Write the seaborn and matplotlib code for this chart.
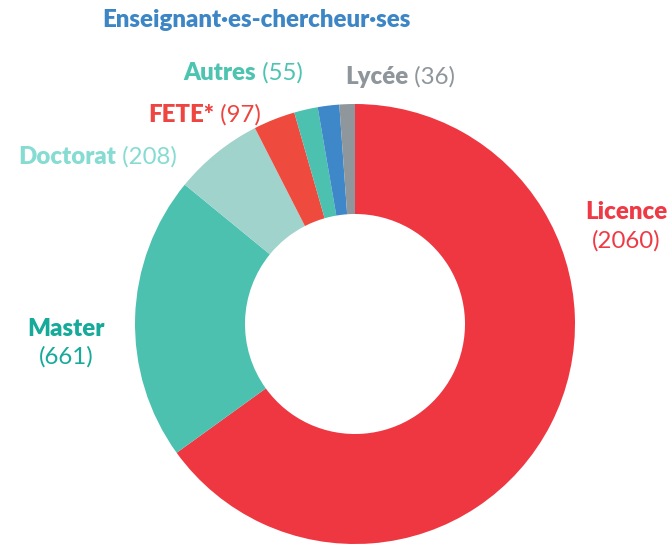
import matplotlib
matplotlib.use("Agg")
import matplotlib.pyplot as plt
import seaborn as sns

# data
categories = ["Licence", "Master", "Doctorat", "FETE*", "Autres",
              "Enseignant·es-chercheur·ses", "Lycée"]
values = [2060, 661, 208, 97, 55, 50, 36]
show_value = [True, True, True, True, True, False, True]

slice_colors = ["#EF3742", "#4CC1B0", "#A0D3CC", "#EE4A3E", "#4CC1B0", "#3E87C8", "#8F979C"]
text_colors = ["#EF3A46", "#15AA9A", "#86DCD2", "#EE4540", "#4CC4B0", "#3D86C6", "#8E969B"]

sns.set_theme(style="white")
plt.rcParams["font.family"] = ["Lato", "DejaVu Sans"]

W, H = 670, 545
fig = plt.figure(figsize=(W / 100, H / 100), dpi=100)
# donut centred at (355, 324) px, outer radius 220 px
cx, cy, r = 355, 324, 220
ax = fig.add_axes([(cx - r) / W, (H - cy - r) / H, 2 * r / W, 2 * r / H])
ax.pie(values, colors=slice_colors, startangle=90, counterclock=False,
       radius=1, wedgeprops=dict(width=0.5, linewidth=0))
ax.set_xlim(-1, 1)
ax.set_ylim(-1, 1)
ax.set_aspect("equal")
ax.axis("off")

fig.canvas.draw()
renderer = fig.canvas.get_renderer()
FS = 17.3
BOLD = "heavy"


def two_part(x, y, name, val, color, ha="left"):
    # bold name followed by plain value, positioned in pixel coords (top-left origin)
    t1 = fig.text(0, 0, name, fontsize=FS, fontweight=BOLD, color=color, va="center")
    w1 = t1.get_window_extent(renderer).width
    w2 = 0
    t2 = None
    if val is not None:
        t2 = fig.text(0, 0, " " + val, fontsize=FS, color=color, va="center")
        w2 = t2.get_window_extent(renderer).width
    total = w1 + w2
    if ha == "center":
        x0 = x - total / 2
    elif ha == "right":
        x0 = x - total
    else:
        x0 = x
    t1.set_position((x0 / W, (H - y) / H))
    if t2 is not None:
        t2.set_position(((x0 + w1) / W, (H - y) / H))


def one(x, y, s, color, bold):
    fig.text(x / W, (H - y) / H, s, fontsize=FS, color=color, ha="center", va="center",
             fontweight=BOLD if bold else "normal")


lab = {c: (f"({v})" if s else None) for c, v, s in zip(categories, values, show_value)}
tc = dict(zip(categories, text_colors))

one(626, 212, "Licence", tc["Licence"], True)
one(626, 241, lab["Licence"], tc["Licence"], False)
one(66, 329, "Master", tc["Master"], True)
one(66, 357, lab["Master"], tc["Master"], False)
two_part(18, 157, "Doctorat", lab["Doctorat"], tc["Doctorat"])
two_part(148, 115, "FETE*", lab["FETE*"], tc["FETE*"])
two_part(183, 73, "Autres", lab["Autres"], tc["Autres"])
two_part(345, 77, "Lycée", lab["Lycée"], tc["Lycée"])
two_part(102, 20, categories[5], None, text_colors[5])

fig.savefig("out.png", dpi=100, facecolor="white")
